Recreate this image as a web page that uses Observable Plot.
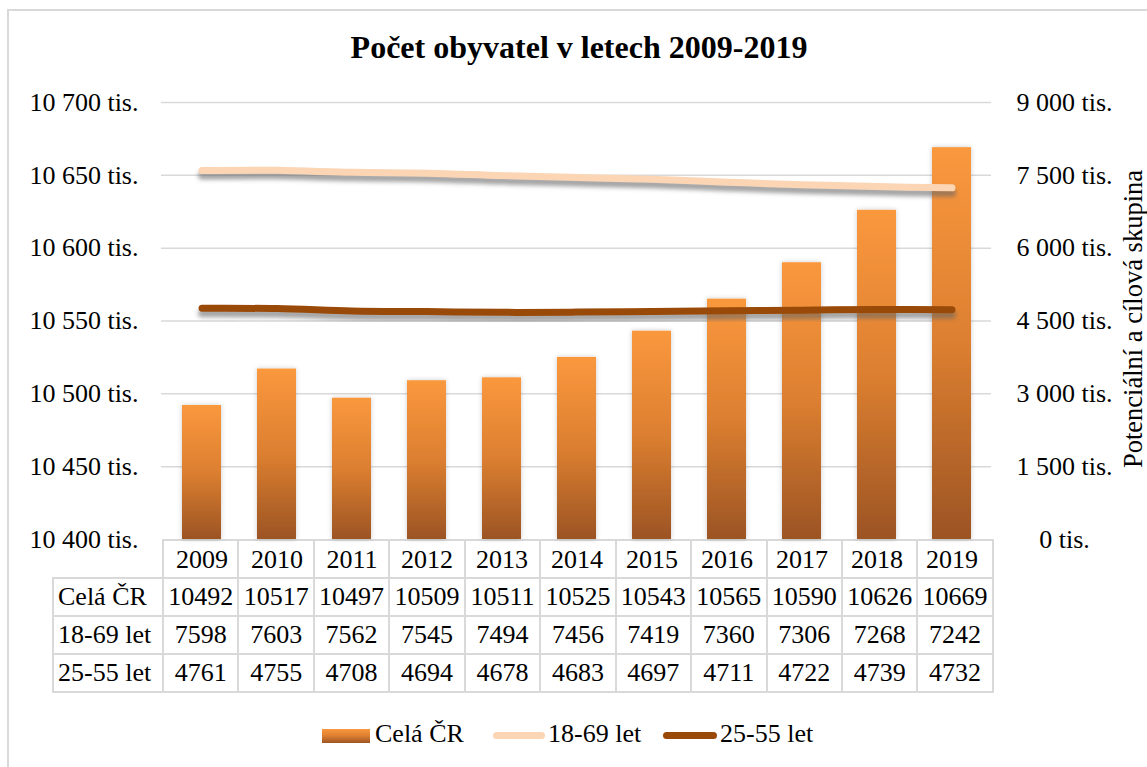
<!DOCTYPE html>
<html><head><meta charset="utf-8">
<script src="https://cdn.jsdelivr.net/npm/d3@7"></script>
<script src="https://cdn.jsdelivr.net/npm/@observablehq/plot@0.6"></script>
<style>
body{margin:0;background:#fff;font-family:"Liberation Serif","Times New Roman",serif;color:#000;overflow:hidden;}
#frame{position:absolute;left:7px;top:9px;width:1170px;height:790px;border:2px solid #d9d9d9;box-sizing:border-box;}
#title{position:absolute;left:0;width:1158px;top:31px;text-align:center;font-weight:bold;font-size:32px;line-height:32px;white-space:nowrap;}
#rtitle{position:absolute;left:1133px;top:319px;transform:translate(-50%,-50%) rotate(-90deg);font-size:26.5px;line-height:26px;white-space:nowrap;}
#chart{position:absolute;left:0;top:80px;z-index:2;}
#tbl{position:absolute;left:52px;top:539px;z-index:1;border-collapse:collapse;table-layout:fixed;font-size:26px;}
#tbl td{border:2px solid #d9d9d9;text-align:center;padding:0;height:36px;line-height:26px;white-space:nowrap;}
#tbl td.lab{text-align:left;padding-left:4px;}
#tbl td.empty{border-left:none;border-top:none;}
.leg{position:absolute;font-size:26px;line-height:26px;white-space:nowrap;}
.sw{position:absolute;}
</style></head>
<body>
<div id="frame"></div>
<div id="title">Počet obyvatel v letech 2009-2019</div>
<div id="rtitle">Potenciální a cílová skupina</div>
<table id="tbl"></table>
<div id="chart"></div>
<div id="legend"></div>
<script>
const years = ["2009","2010","2011","2012","2013","2014","2015","2016","2017","2018","2019"];
const celaCR = [10492,10517,10497,10509,10511,10525,10543,10565,10590,10626,10669];
const let1869 = [7598,7603,7562,7545,7494,7456,7419,7360,7306,7268,7242];
const let2555 = [4761,4755,4708,4694,4678,4683,4697,4711,4722,4739,4732];
const seriesNames = ["Celá ČR","18-69 let","25-55 let"];
const leftTicks = [10400,10450,10500,10550,10600,10650,10700];
const rightTicks = [0,1500,3000,4500,6000,7500,9000];

const leftMin = 10400, leftMax = 10700, rightMax = 9000;
const toLeft = v => leftMin + v * (leftMax - leftMin) / rightMax;
const toRight = d => Math.round((d - leftMin) * rightMax / (leftMax - leftMin));
const fmt = d3.formatLocale({decimal:",", thousands:"\u00a0", grouping:[3], currency:["",""]}).format(",");

const data = years.map((y, i) => ({year: y, cela: celaCR[i], a: toLeft(let1869[i]), b: toLeft(let2555[i])}));

const W = 1147, H = 500;
const chart = Plot.plot({
  width: W, height: H,
  marginTop: 22, marginBottom: 41, marginLeft: 161, marginRight: 156,
  style: {fontFamily: "Liberation Serif, Times New Roman, serif", fontSize: "26px", color: "#000", background: "transparent", overflow: "visible"},
  x: {type: "band", domain: years, padding: 0},
  y: {domain: [leftMin, leftMax]},
  marks: [
    Plot.gridY(leftTicks.slice(1), {stroke: "#d9d9d9", strokeOpacity: 1, strokeWidth: 1.5}),
    Plot.barY(data, {x: "year", y1: leftMin, y2: "cela", fill: "url(#barGrad)", insetLeft: 18, insetRight: 18, ariaDescription: "bars"}),
    Plot.line(data, {x: "year", y: "a", stroke: "#666", strokeOpacity: 0.6, strokeWidth: 8, dy: 5, curve: "catmull-rom", ariaDescription: "shadow"}),
    Plot.line(data, {x: "year", y: "b", stroke: "#666", strokeOpacity: 0.6, strokeWidth: 8, dy: 5, curve: "catmull-rom", ariaDescription: "shadow"}),
    Plot.line(data, {x: "year", y: "a", stroke: "#FCD5B4", strokeWidth: 7, strokeLinecap: "round", curve: "catmull-rom"}),
    Plot.line(data, {x: "year", y: "b", stroke: "#9A4A08", strokeWidth: 7, strokeLinecap: "round", curve: "catmull-rom"}),
    Plot.axisX({tickSize: 0, tickPadding: 10, label: null, fontSize: 26}),
    Plot.axisY(leftTicks, {anchor: "left", tickSize: 0, tickPadding: 23, label: null, fontSize: 26, tickFormat: d => fmt(d) + " tis."}),
    Plot.axisY(rightTicks.map(toLeft), {anchor: "right", tickSize: 0, tickPadding: 73, textAnchor: "middle", label: null, fontSize: 26, tickFormat: d => fmt(toRight(d)) + " tis."})
  ]
});

// defs: gradient + filters
const svg = d3.select(chart);
const defs = svg.insert("defs", ":first-child");
const grad = defs.append("linearGradient").attr("id", "barGrad").attr("x1", 0).attr("y1", 0).attr("x2", 0).attr("y2", 1);
grad.append("stop").attr("offset", 0).attr("stop-color", "#FA983E");
grad.append("stop").attr("offset", 0.5).attr("stop-color", "#DC7F30");
grad.append("stop").attr("offset", 1).attr("stop-color", "#9C5424");
defs.append("filter").attr("id", "blur").attr("x", "-5%").attr("y", "-100%").attr("width", "110%").attr("height", "300%")
  .append("feGaussianBlur").attr("stdDeviation", 2);
const bs = defs.append("filter").attr("id", "barShadow").attr("x", "-30%").attr("y", "-5%").attr("width", "160%").attr("height", "110%");
bs.append("feDropShadow").attr("dx", 0).attr("dy", 0).attr("stdDeviation", 2.5).attr("flood-color", "#000").attr("flood-opacity", 0.2);
svg.selectAll('g[aria-description="shadow"]').attr("filter", "url(#blur)");
svg.selectAll('g[aria-description="bars"]').attr("filter", "url(#barShadow)");
document.getElementById("chart").appendChild(chart);

// data table (grid + values); years row text comes from the Plot x axis
const tbl = d3.select("#tbl");
const cg = tbl.append("colgroup");
cg.append("col").style("width", "110px");
years.forEach(() => cg.append("col").style("width", "75.45px"));
const hdr = tbl.append("tr");
hdr.append("td").attr("class", "empty");
years.forEach(() => hdr.append("td").html("&nbsp;"));
[celaCR, let1869, let2555].forEach((arr, k) => {
  const tr = tbl.append("tr");
  tr.append("td").attr("class", "lab").text(seriesNames[k]);
  arr.forEach(v => tr.append("td").text(v));
});

// legend
const leg = d3.select("#legend");
leg.append("div").attr("class", "sw").style("left", "322px").style("top", "729px").style("width", "48px").style("height", "14px")
  .style("background", "linear-gradient(#FA983E,#DC7F30 50%,#9C5424)");
leg.append("div").attr("class", "leg").style("left", "375px").style("top", "721px").text(seriesNames[0]);
leg.append("div").attr("class", "sw").style("left", "493px").style("top", "732px").style("width", "52px").style("height", "7px")
  .style("border-radius", "4px").style("background", "#FCD5B4");
leg.append("div").attr("class", "leg").style("left", "548px").style("top", "721px").text(seriesNames[1]);
leg.append("div").attr("class", "sw").style("left", "663px").style("top", "732px").style("width", "54px").style("height", "7px")
  .style("border-radius", "4px").style("background", "#9A4A08");
leg.append("div").attr("class", "leg").style("left", "720px").style("top", "721px").text(seriesNames[2]);
</script>
</body></html>
